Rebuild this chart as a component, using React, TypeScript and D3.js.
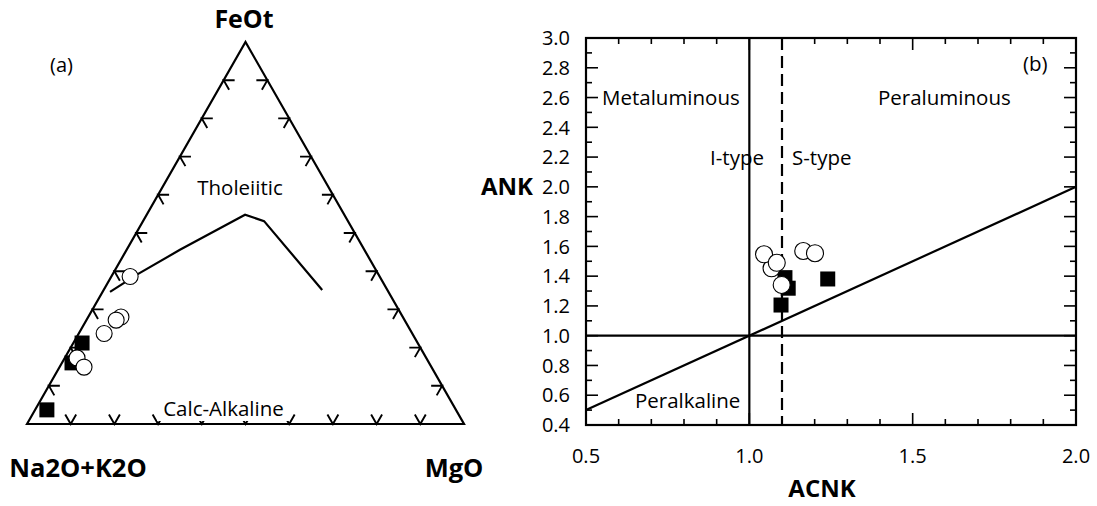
import React from 'react';
import * as d3 from 'd3';

// ---------- Panel (a): AFM ternary (FeOt and MgO in %, alkalis = remainder) ----------
const boundaryFeOt = [34.6, 39.3, 45.6, 54.8, 53.1, 35.1];
const boundaryMgO = [1.7, 5.8, 12.2, 22.5, 27.7, 50.0];
const circleFeOtA = [38.6, 28.0, 27.2, 23.7, 17.3, 14.9];
const circleMgOA = [4.3, 7.5, 6.8, 5.8, 2.8, 5.6];
const squareFeOtA = [21.2, 16.0, 3.7];
const squareMgOA = [2.0, 2.3, 2.7];
const ternaryTicks = [10, 20, 30, 40, 50, 60, 70, 80, 90];

// ---------- Panel (b): ACNK vs ANK ----------
const circleACNK = [1.068, 1.045, 1.084, 1.165, 1.201, 1.099];
const circleANK = [1.453, 1.547, 1.49, 1.569, 1.554, 1.341];
const squareACNK = [1.109, 1.119, 1.097, 1.24];
const squareANK = [1.39, 1.319, 1.206, 1.381];
const xTickLabels = [0.5, 1.0, 1.5, 2.0];
const yTickLabels = [0.4, 0.6, 0.8, 1.0, 1.2, 1.4, 1.6, 1.8, 2.0, 2.2, 2.4, 2.6, 2.8, 3.0];

const FONT = "'Open Sans', 'Noto Sans', sans-serif";

export default function App() {
  // ternary geometry
  const tx = d3.scaleLinear().domain([0, 100]).range([27, 464]);
  const ty = d3.scaleLinear().domain([0, 100]).range([424, 42]);
  const tern = (fe: number, mg: number): [number, number] => [tx(mg + fe / 2), ty(fe)];
  const pA = tern(0, 0); // alkalis corner
  const pF = tern(100, 0);
  const pM = tern(0, 100);
  const sideLen = Math.hypot(pF[0] - pM[0], pF[1] - pM[1]);
  const dirR: [number, number] = [(pM[0] - pF[0]) / sideLen, (pM[1] - pF[1]) / sideLen];
  const dirL: [number, number] = [(pA[0] - pF[0]) / sideLen, (pA[1] - pF[1]) / sideLen];
  const L = 11;

  const tickPaths: string[] = [];
  ternaryTicks.forEach((t) => {
    const [lx, ly] = tern(t, 0);
    tickPaths.push(`M${lx + L},${ly}L${lx},${ly}L${lx + dirR[0] * L},${ly + dirR[1] * L}`);
    const [rx, ry] = tern(t, 100 - t);
    tickPaths.push(`M${rx - L},${ry}L${rx},${ry}L${rx + dirL[0] * L},${ry + dirL[1] * L}`);
    const [bx, by] = tern(0, t);
    tickPaths.push(`M${bx - dirR[0] * L},${by - dirR[1] * L}L${bx},${by}L${bx - dirL[0] * L},${by - dirL[1] * L}`);
  });

  const boundaryLine = d3
    .line<number>()
    .x((_, i) => tern(boundaryFeOt[i], boundaryMgO[i])[0])
    .y((_, i) => tern(boundaryFeOt[i], boundaryMgO[i])[1]);

  // panel b scales
  const x = d3.scaleLinear().domain([0.5, 2.0]).range([586, 1076]);
  const y = d3.scaleLinear().domain([0.4, 3.0]).range([425, 38]);
  const xMinor = d3.range(0.5, 2.0001, 0.1).map((v) => +v.toFixed(2));
  const yMinor = d3.range(0.4, 3.0001, 0.1).map((v) => +v.toFixed(2));
  const isXMajor = (v: number) => Math.abs(v * 2 - Math.round(v * 2)) < 1e-6;
  const isYMajor = (v: number) => Math.abs(v * 5 - Math.round(v * 5)) < 1e-6;
  const diag = d3.line<number>().x((v) => x(v)).y((v) => y(v));

  const sq = 15;
  const rA = 8;
  const rB = 8.5;

  return (
    <svg width={1097} height={506} style={{ position: 'absolute', left: 0, top: 0, background: '#fff' }} fontFamily={FONT}>
      <rect x={0} y={0} width={1097} height={506} fill="#fff" />
      {/* ---------- panel a ---------- */}
      <path d={`M${pA[0]},${pA[1]}L${pF[0]},${pF[1]}L${pM[0]},${pM[1]}Z`} fill="none" stroke="#000" strokeWidth={2.2} strokeLinejoin="miter" />
      {tickPaths.map((d, i) => (
        <path key={i} d={d} fill="none" stroke="#000" strokeWidth={1.9} />
      ))}
      <path d={boundaryLine(boundaryFeOt) || ''} fill="none" stroke="#000" strokeWidth={2.2} />
      <rect x={157} y={394} width={132} height={27} fill="#fff" />
      <text x={223.5} y={416} textAnchor="middle" fontSize={20.5}>Calc-Alkaline</text>
      <text x={240} y={195} textAnchor="middle" fontSize={20.5}>Tholeiitic</text>
      <text x={61.5} y={72} textAnchor="middle" fontSize={20}>(a)</text>
      <text x={244} y={28} textAnchor="middle" fontSize={25} fontWeight="bold">FeOt</text>
      <text x={78} y={477} textAnchor="middle" fontSize={25.5} fontWeight="bold">Na2O+K2O</text>
      <text x={454} y={477} textAnchor="middle" fontSize={25.5} fontWeight="bold">MgO</text>
      {squareFeOtA.map((fe, i) => {
        const [px, py] = tern(fe, squareMgOA[i]);
        return <rect key={'sa' + i} x={px - sq / 2} y={py - sq / 2} width={sq} height={sq} fill="#000" />;
      })}
      {circleFeOtA.map((fe, i) => {
        const [px, py] = tern(fe, circleMgOA[i]);
        return <circle key={'ca' + i} cx={px} cy={py} r={rA} fill="#fff" stroke="#000" strokeWidth={1.1} />;
      })}

      {/* ---------- panel b ---------- */}
      <rect x={x(0.5)} y={y(3.0)} width={x(2.0) - x(0.5)} height={y(0.4) - y(3.0)} fill="none" stroke="#000" strokeWidth={2.2} />
      {xMinor.map((v) => {
        const len = isXMajor(v) ? 12 : 6;
        return (
          <g key={'xt' + v}>
            <line x1={x(v)} x2={x(v)} y1={y(0.4)} y2={y(0.4) - len} stroke="#000" strokeWidth={1.6} />
            <line x1={x(v)} x2={x(v)} y1={y(3.0)} y2={y(3.0) + len} stroke="#000" strokeWidth={1.6} />
          </g>
        );
      })}
      {yMinor.map((v) => {
        const len = isYMajor(v) ? 12 : 6;
        return (
          <g key={'yt' + v}>
            <line x1={x(0.5)} x2={x(0.5) + len} y1={y(v)} y2={y(v)} stroke="#000" strokeWidth={1.6} />
            <line x1={x(2.0)} x2={x(2.0) - len} y1={y(v)} y2={y(v)} stroke="#000" strokeWidth={1.6} />
          </g>
        );
      })}
      {yTickLabels.map((v) => (
        <text key={'yl' + v} x={570} y={y(v)} dy="0.36em" textAnchor="end" fontSize={20}>
          {v.toFixed(1)}
        </text>
      ))}
      {xTickLabels.map((v) => (
        <text key={'xl' + v} x={x(v)} y={463} textAnchor="middle" fontSize={20}>
          {v.toFixed(1)}
        </text>
      ))}
      <line x1={x(0.5)} x2={x(2.0)} y1={y(1.0)} y2={y(1.0)} stroke="#000" strokeWidth={2.2} />
      <line x1={x(1.0)} x2={x(1.0)} y1={y(0.4)} y2={y(3.0)} stroke="#000" strokeWidth={2.2} />
      <line x1={x(1.1)} x2={x(1.1)} y1={y(3.0)} y2={y(0.4)} stroke="#000" strokeWidth={2.2} strokeDasharray="12,6" />
      <path d={diag([0.5, 2.0]) || ''} fill="none" stroke="#000" strokeWidth={2.2} />
      <text x={602} y={105} fontSize={20.5}>Metaluminous</text>
      <text x={878} y={105} fontSize={20.5}>Peraluminous</text>
      <text x={710} y={165} fontSize={20.5}>I-type</text>
      <text x={792} y={165} fontSize={20.5}>S-type</text>
      <text x={635} y={408} fontSize={20.5}>Peralkaline</text>
      <text x={1023} y={71} fontSize={20.5}>(b)</text>
      <text x={822} y={497} textAnchor="middle" fontSize={24} fontWeight="bold">ACNK</text>
      <text x={507} y={195} textAnchor="middle" fontSize={24} fontWeight="bold">ANK</text>
      {squareACNK.map((v, i) => (
        <rect key={'sb' + i} x={x(v) - sq / 2} y={y(squareANK[i]) - sq / 2} width={sq} height={sq} fill="#000" />
      ))}
      {circleACNK.map((v, i) => (
        <circle key={'cb' + i} cx={x(v)} cy={y(circleANK[i])} r={rB} fill="#fff" stroke="#000" strokeWidth={1.1} />
      ))}
    </svg>
  );
}
